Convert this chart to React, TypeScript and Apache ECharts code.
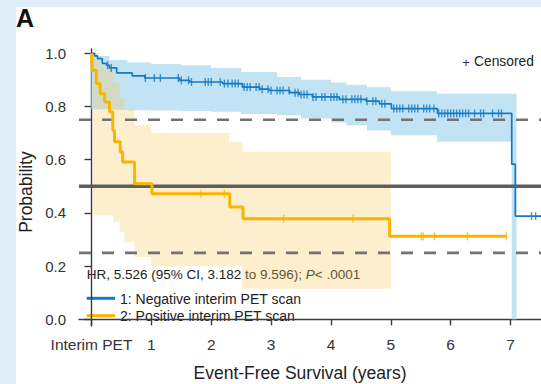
import React, { useEffect, useRef } from "react";
import * as echarts from "echarts";

// ---- axis ticks ----
const xTicks = [0, 1, 2, 3, 4, 5, 6, 7];
const xTickLabels = ["Interim PET", "1", "2", "3", "4", "5", "6", "7"];
const yTicks = [0, 0.2, 0.4, 0.6, 0.8, 1.0];
const yTickLabels = ["0.0", "0.2", "0.4", "0.6", "0.8", "1.0"];

// ---- Group 1: Negative interim PET scan ----
const negTimes = [0, 0.05, 0.1, 0.18, 0.25, 0.3, 0.42, 0.68, 0.89, 1.47, 1.64, 2.19, 2.52, 2.81, 2.97, 3.31, 3.47, 3.69, 4.14, 4.59, 4.81, 5.01, 5.78, 7.02, 7.08, 7.51];
const negSurv = [1.0, 0.99, 0.98, 0.962, 0.955, 0.945, 0.926, 0.915, 0.907, 0.898, 0.892, 0.886, 0.873, 0.865, 0.86, 0.852, 0.845, 0.836, 0.827, 0.82, 0.81, 0.792, 0.774, 0.583, 0.388, 0.388];
const negCensorTimes = [0.27, 0.33, 0.9, 1.05, 1.15, 1.45, 1.5, 1.62, 1.67, 1.9, 1.95, 2.0, 2.15, 2.22, 2.28, 2.35, 2.4, 2.45, 2.55, 2.6, 2.65, 2.75, 2.8, 2.85, 2.95, 3.0, 3.1, 3.15, 3.2, 3.3, 3.4, 3.45, 3.5, 3.55, 3.6, 3.7, 3.75, 3.85, 3.9, 4.0, 4.05, 4.1, 4.2, 4.25, 4.35, 4.4, 4.45, 4.5, 4.6, 4.7, 4.75, 4.85, 4.9, 5.05, 5.1, 5.15, 5.2, 5.3, 5.35, 5.4, 5.45, 5.55, 5.6, 5.65, 5.72, 5.8, 5.85, 5.9, 5.95, 6.0, 6.05, 6.1, 6.15, 6.2, 6.25, 6.3, 6.4, 6.5, 6.55, 6.7, 6.8, 6.85, 7.35, 7.42];
const negBandTimes = [0, 0.1, 0.3, 0.6, 1.0, 1.5, 2.0, 2.5, 3.1, 3.5, 4.0, 4.26, 4.6, 5.0, 5.77, 7.02];
const negBandUpper = [1.0, 0.99, 0.975, 0.965, 0.96, 0.955, 0.945, 0.93, 0.911, 0.9, 0.89, 0.882, 0.872, 0.857, 0.848, 0.848];
const negBandLower = [0.79, 0.79, 0.788, 0.786, 0.785, 0.783, 0.78, 0.772, 0.767, 0.755, 0.74, 0.729, 0.71, 0.692, 0.667, 0.0];
const negBandEnd = 7.1;

// ---- Group 2: Positive interim PET scan ----
const posTimes = [0, 0.01, 0.08, 0.145, 0.22, 0.3, 0.355, 0.385, 0.48, 0.52, 0.72, 1.01, 2.31, 2.53, 4.98, 6.93];
const posSurv = [1.0, 0.936, 0.886, 0.848, 0.817, 0.78, 0.71, 0.667, 0.629, 0.591, 0.51, 0.472, 0.422, 0.378, 0.312, 0.312];
const posCensorTimes = [1.83, 2.22, 3.21, 4.37, 5.51, 5.54, 5.73, 6.28, 6.93];
const posBandTimes = [0.02, 0.15, 0.36, 0.47, 0.55, 0.72, 1.0, 2.3, 2.52];
const posBandUpper = [1.0, 0.95, 0.89, 0.83, 0.79, 0.729, 0.7, 0.667, 0.63];
const posBandLower = [0.39, 0.39, 0.366, 0.328, 0.29, 0.234, 0.2, 0.2, 0.115];
const posBandEnd = 5.0;

// ---- reference lines ----
const dashedLevels = [0.25, 0.75];
const solidLevels = [0.5];

const seriesNames = ["1: Negative interim PET scan", "2: Positive interim PET scan"];
const hrText = "HR, 5.526 (95% CI, 3.182 to 9.596); ";

const X_MIN = -0.209;
const X_MAX = 7.509;
const Y_MIN = -0.025;
const Y_MAX = 1.016;

const BLUE = "#137ac6";
const ORANGE = "#f8b500";
const FONT = "'Liberation Sans', Arial, sans-serif";

function survAt(times: number[], surv: number[], t: number) {
  let v = surv[0];
  for (let i = 0; i < times.length; i++) {
    if (times[i] <= t) v = surv[i];
  }
  return v;
}

function bandSeries(times: number[], lower: number[], upper: number[], end: number, color: string) {
  return {
    type: "custom",
    silent: true,
    coordinateSystem: "cartesian2d",
    data: [[times[0], lower[0]]],
    encode: { x: 0, y: 1 },
    clip: true,
    renderItem: (_params: any, api: any) => {
      const pts: number[][] = [];
      for (let i = 0; i < times.length; i++) {
        const x1 = i + 1 < times.length ? times[i + 1] : end;
        pts.push(api.coord([times[i], upper[i]]), api.coord([x1, upper[i]]));
      }
      for (let i = times.length - 1; i >= 0; i--) {
        const x1 = i + 1 < times.length ? times[i + 1] : end;
        pts.push(api.coord([x1, lower[i]]), api.coord([times[i], lower[i]]));
      }
      return { type: "polygon", shape: { points: pts }, style: { fill: color } };
    },
  };
}

export default function App() {
  const ref = useRef<HTMLDivElement>(null);
  useEffect(() => {
    const el = ref.current;
    if (!el) return;
    const chart = echarts.init(el, null, { renderer: "svg" });

    const refSeries = [
      ...dashedLevels.map((v) => ({
        type: "line",
        silent: true,
        symbol: "none",
        data: [[X_MIN, v], [X_MAX, v]],
        lineStyle: { color: "#727272", width: 2.6, type: [12, 11] },
      })),
      ...solidLevels.map((v) => ({
        type: "line",
        silent: true,
        symbol: "none",
        data: [[X_MIN, v], [X_MAX, v]],
        lineStyle: { color: "#5e5e5e", width: 3.6 },
      })),
    ];

    const option: any = {
      animation: false,
      backgroundColor: "#e0eef9",
      grid: { left: 79, top: 49, right: 0, bottom: 58, containLabel: false },
      xAxis: {
        type: "value",
        min: X_MIN,
        max: X_MAX,
        splitLine: { show: false },
        axisLine: { show: true, lineStyle: { color: "#3c3c3c", width: 1.4 } },
        axisTick: { show: true, length: 6, customValues: xTicks, lineStyle: { color: "#3c3c3c", width: 1.4 } },
        axisLabel: {
          customValues: xTicks,
          formatter: (v: number) => xTickLabels[xTicks.indexOf(Math.round(v))] ?? "",
          fontFamily: FONT,
          fontSize: 15.5,
          color: "#333",
          margin: 10,
        },
      },
      yAxis: {
        type: "value",
        min: Y_MIN,
        max: Y_MAX,
        splitLine: { show: false },
        axisLine: { show: true, lineStyle: { color: "#3c3c3c", width: 1.4 } },
        axisTick: { show: true, length: 7, customValues: yTicks, lineStyle: { color: "#3c3c3c", width: 1.4 } },
        axisLabel: {
          customValues: yTicks,
          formatter: (v: number) => yTickLabels[yTicks.findIndex((t) => Math.abs(t - v) < 1e-6)] ?? "",
          fontFamily: FONT,
          fontSize: 15,
          color: "#333",
          margin: 13,
        },
      },
      series: [
        bandSeries(negBandTimes, negBandLower, negBandUpper, negBandEnd, "#c2e3f3"),
        bandSeries(posBandTimes, posBandLower, posBandUpper, posBandEnd, "rgba(250,200,90,0.3)"),
        ...refSeries,
        {
          name: seriesNames[0],
          type: "line",
          step: "end",
          symbol: "none",
          data: negTimes.map((t, i) => [t, negSurv[i]]),
          lineStyle: { color: BLUE, width: 1.7 },
        },
        {
          name: seriesNames[1],
          type: "line",
          step: "end",
          symbol: "none",
          data: posTimes.map((t, i) => [t, posSurv[i]]),
          lineStyle: { color: ORANGE, width: 3 },
        },
        {
          type: "scatter",
          silent: true,
          symbol: "rect",
          symbolSize: [1.4, 8],
          itemStyle: { color: BLUE },
          data: negCensorTimes.map((t) => [t, survAt(negTimes, negSurv, t)]),
        },
        {
          type: "scatter",
          silent: true,
          symbol: "rect",
          symbolSize: [1.4, 8],
          itemStyle: { color: ORANGE },
          data: posCensorTimes.map((t) => [t, survAt(posTimes, posSurv, t)]),
        },
      ],
      graphic: [
        { type: "rect", silent: true, z: -100, shape: { x: 16, y: 7, width: 525, height: 377 }, style: { fill: "#ffffff" } },
        { type: "text", x: 16, y: 18, style: { text: "A", font: `bold 25px ${FONT}`, fill: "#111", verticalAlign: "middle" } },
        { type: "text", x: 466, y: 62, style: { text: "+", font: `13px ${FONT}`, fill: "#3d2b56", align: "center", verticalAlign: "middle" } },
        { type: "text", x: 474, y: 61, style: { text: "Censored", font: `13.8px ${FONT}`, fill: "#222", verticalAlign: "middle" } },
        { type: "text", x: 26, y: 192, rotation: Math.PI / 2, style: { text: "Probability", font: `17.5px ${FONT}`, fill: "#222", align: "center", verticalAlign: "middle" } },
        { type: "text", x: 300, y: 373, style: { text: "Event-Free Survival (years)", font: `17.5px ${FONT}`, fill: "#222", align: "center", verticalAlign: "middle" } },
        {
          type: "text",
          x: 86.7,
          y: 274,
          style: {
            text: `{a|${hrText}}{b|P}{a|< .0001}`,
            verticalAlign: "middle",
            rich: {
              a: { fontFamily: FONT, fontSize: 13.5, fill: "#222" },
              b: { fontFamily: FONT, fontSize: 13.5, fontStyle: "italic", fill: "#222" },
            },
          },
        },
        { type: "line", shape: { x1: 86.7, y1: 298.3, x2: 115, y2: 298.3 }, style: { stroke: BLUE, lineWidth: 3 } },
        { type: "text", x: 120, y: 298.5, style: { text: seriesNames[0], font: `14px ${FONT}`, fill: "#222", verticalAlign: "middle" } },
        { type: "line", shape: { x1: 86.7, y1: 315.7, x2: 115, y2: 315.7 }, style: { stroke: ORANGE, lineWidth: 3 } },
        { type: "text", x: 120, y: 316, style: { text: seriesNames[1], font: `14px ${FONT}`, fill: "#222", verticalAlign: "middle" } },
      ],
    };

    chart.setOption(option);
    return () => chart.dispose();
  }, []);

  return <div ref={ref} style={{ position: "fixed", left: 0, top: 0, width: 541, height: 384 }} />;
}
